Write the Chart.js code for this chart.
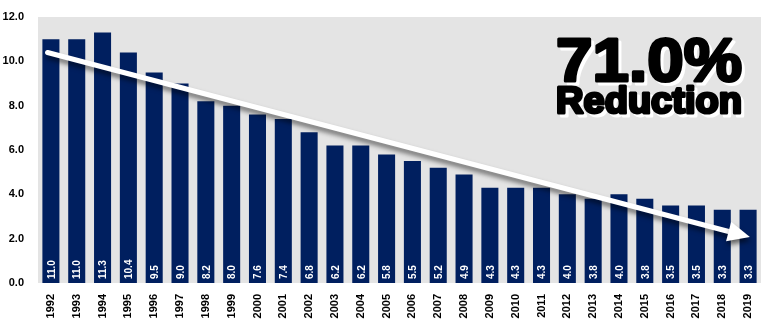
<!DOCTYPE html>
<html><head><meta charset="utf-8">
<script src="https://cdn.jsdelivr.net/npm/chart.js@4/dist/chart.umd.min.js"></script>
<style>html,body{margin:0;padding:0;background:#fff}#wrap{width:772px;height:323px;position:relative}</style>
</head><body><div id="wrap"><canvas id="c"></canvas></div>
<script>
const years = ['1992','1993','1994','1995','1996','1997','1998','1999','2000','2001','2002','2003','2004','2005','2006','2007','2008','2009','2010','2011','2012','2013','2014','2015','2016','2017','2018','2019'];
const values = [11.0,11.0,11.3,10.4,9.5,9.0,8.2,8.0,7.6,7.4,6.8,6.2,6.2,5.8,5.5,5.2,4.9,4.3,4.3,4.3,4.0,3.8,4.0,3.8,3.5,3.5,3.3,3.3];
const yTicks = [0,2,4,6,8,10,12];
const arrowFrom = {x: -0.13, y: 10.4};
const arrowTo = {x: 27.07, y: 2.07};
const headline = '71.0%';
const subline = 'Reduction';

const bgPlugin = {
  id: 'bg',
  beforeDraw(chart) {
    const {ctx, chartArea: a} = chart;
    ctx.save(); ctx.fillStyle = '#e4e4e4';
    ctx.fillRect(a.left, a.top, a.right - a.left, a.bottom - a.top);
    ctx.restore();
  }
};
const labelPlugin = {
  id: 'lbl',
  afterDatasetsDraw(chart) {
    const {ctx} = chart;
    const meta = chart.getDatasetMeta(0);
    ctx.save();
    ctx.fillStyle = '#ffffff';
    ctx.font = 'bold 10px "Liberation Sans", Arial, sans-serif';
    meta.data.forEach((bar, i) => {
      ctx.save();
      ctx.translate(bar.x + 1, bar.base - 4);
      ctx.rotate(-Math.PI / 2);
      ctx.textAlign = 'left'; ctx.textBaseline = 'middle';
      ctx.fillText(values[i].toFixed(1), 0, 0);
      ctx.restore();
    });
    ctx.restore();
  }
};
const arrowPlugin = {
  id: 'arrow',
  afterDatasetsDraw(chart) {
    const {ctx, scales: {x, y}} = chart;
    const x1 = x.getPixelForValue(arrowFrom.x), y1 = y.getPixelForValue(arrowFrom.y);
    const x2 = x.getPixelForValue(arrowTo.x), y2 = y.getPixelForValue(arrowTo.y);
    const ang = Math.atan2(y2 - y1, x2 - x1);
    const headLen = 22, headW = 10;
    const bx = x2 - headLen * Math.cos(ang), by = y2 - headLen * Math.sin(ang);
    const draw = () => {
      ctx.beginPath();
      ctx.moveTo(x1, y1); ctx.lineTo(bx + 2 * Math.cos(ang), by + 2 * Math.sin(ang));
      ctx.lineWidth = 5; ctx.lineCap = 'round'; ctx.stroke();
      ctx.beginPath();
      ctx.moveTo(x2, y2);
      ctx.lineTo(bx + headW * Math.sin(ang), by - headW * Math.cos(ang));
      ctx.lineTo(bx - headW * Math.sin(ang), by + headW * Math.cos(ang));
      ctx.closePath(); ctx.fill();
    };
    ctx.save();
    ctx.shadowColor = 'rgba(0,0,0,0.55)'; ctx.shadowBlur = 5; ctx.shadowOffsetX = 1; ctx.shadowOffsetY = 4;
    ctx.strokeStyle = '#ffffff'; ctx.fillStyle = '#ffffff';
    draw();
    ctx.restore();
  }
};
const textPlugin = {
  id: 'txt',
  afterDraw(chart) {
    const {ctx, chartArea: a} = chart;
    const cx = a.right - 112;
    const put = (t, size, base, targetW) => {
      ctx.save();
      ctx.font = 'bold ' + size + 'px "Liberation Sans", Arial, sans-serif';
      const w = ctx.measureText(t).width + 2;
      const sx = targetW / w;
      ctx.translate(cx, base); ctx.scale(sx, 1);
      ctx.textAlign = 'center'; ctx.textBaseline = 'alphabetic';
      ctx.lineJoin = 'round';
      ctx.fillStyle = '#ffffff'; ctx.strokeStyle = '#ffffff'; ctx.lineWidth = 3;
      ctx.strokeText(t, 3 / sx, 3); ctx.fillText(t, 3 / sx, 3);
      ctx.fillStyle = '#000000'; ctx.strokeStyle = '#000000'; ctx.lineWidth = 3;
      ctx.strokeText(t, 0, 0); ctx.fillText(t, 0, 0);
      ctx.restore();
    };
    put(headline, 62, 81, 188);
    put(subline, 37, 113, 188);
  }
};

new Chart(document.getElementById('c'), {
  type: 'bar',
  data: { labels: years, datasets: [{ data: values, backgroundColor: '#001f5f', categoryPercentage: 1, barPercentage: 0.66 }] },
  options: {
    responsive: true, maintainAspectRatio: false, animation: false,
    layout: { padding: { left: 0, right: 11, top: 17, bottom: 0 } },
    plugins: { legend: { display: false }, tooltip: { enabled: false } },
    scales: {
      x: {
        grid: { display: false }, border: { display: false },
        ticks: { maxRotation: 90, minRotation: 90, autoSkip: false, padding: 3, color: '#000',
          font: { family: '"Liberation Sans", Arial, sans-serif', size: 11, weight: 'bold' } },
        afterFit(s) { s.height = 40; }
      },
      y: {
        min: 0, max: 12,
        afterBuildTicks(s) { s.ticks = yTicks.map(v => ({ value: v })); },
        grid: { display: false }, border: { display: false },
        ticks: { color: '#000', padding: 6, callback: v => Number(v).toFixed(1),
          font: { family: '"Liberation Sans", Arial, sans-serif', size: 11, weight: 'bold' } },
        afterFit(s) { s.width = 38; s.paddingTop = 0; }
      }
    }
  },
  plugins: [bgPlugin, labelPlugin, arrowPlugin, textPlugin]
});
</script></body></html>
